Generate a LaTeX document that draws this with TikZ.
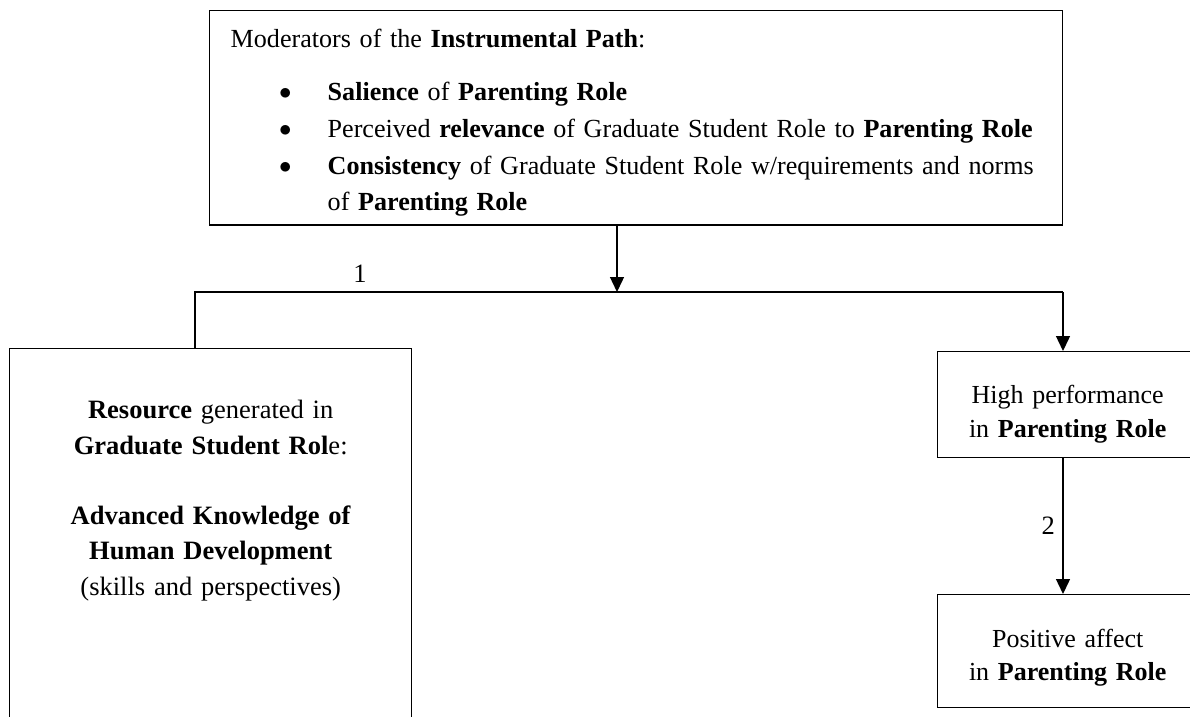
\documentclass[tikz,border=0pt]{standalone}
\usepackage{fontspec}
\setmainfont{Liberation Serif}
\usetikzlibrary{arrows.meta,positioning}
\tikzset{
  >={Triangle[width=14pt,length=15pt]},
  x=1pt, y=-1pt,
}
\tikzstyle{box}=[draw,line width=1.4pt,inner sep=0pt,anchor=north west,align=center]
\tikzstyle{link}=[line width=1.4pt]
\tikzstyle{every node}=[font=\fontsize{26.5}{36.7}\selectfont]
\newcommand{\itm}{\hspace*{69.5pt}\makebox[48.5pt][l]{\raisebox{1pt}{$\bullet$}}}

\begin{document}
\begin{tikzpicture}
  \clip (0,0) rectangle (1190,716);

  % moderators
  \node[box,text width=853pt,align=left,font=\fontsize{26.1}{36.7}\selectfont] (mods) at (209,10)
    {\hspace*{21pt}\rule{0pt}{37pt}Moderators of the \textbf{Instrumental Path}:\\[16.3pt]
     \itm\textbf{Salience} of \textbf{Parenting Role}\\
     \itm Perceived \textbf{relevance} of Graduate Student Role to \textbf{Parenting Role}\\
     \itm\textbf{Consistency} of Graduate Student Role w/requirements and norms\\
     \hspace*{118pt}of \textbf{Parenting Role}\rule[-14pt]{0pt}{0pt}};

  % resource box (runs off the page)
  \node[box,text width=402pt,font=\fontsize{26.5}{35.5}\selectfont] (res) at (9,348)
    {\rule{0pt}{70pt}\textbf{Resource} generated in\\
     \textbf{Graduate Student Rol}e:\\[34.5pt]
     \textbf{Advanced Knowledge of}\\
     \textbf{Human Development}\\
     (skills and perspectives)\rule[-200pt]{0pt}{0pt}};

  % parenting outcomes
  \node[box,text width=260pt,font=\fontsize{26}{34}\selectfont] (perf) at (937,351)
    {\rule{0pt}{52pt}High performance\\
     in \textbf{Parenting Role}\rule[-20pt]{0pt}{0pt}};
  \node[box,text width=260pt,font=\fontsize{26}{33}\selectfont] (aff) at (937,594)
    {\rule{0pt}{53pt}Positive affect\\
     in \textbf{Parenting Role}\rule[-27pt]{0pt}{0pt}};

  \coordinate (lft) at (195,292);
  \coordinate (split) at (617,292);
  \coordinate (rgt) at (1063,292);

  \draw[link,->] (mods.south -| split) -- (split);
  \draw[link] (res.north -| lft) -- (lft) -- node[pos=0.19,above=5pt] {1} (rgt);
  \draw[link,->] (rgt) -- (perf.north -| rgt);
  \draw[link,->] (perf.south -| rgt) -- node[left=4pt] {2} (aff.north -| rgt);
\end{tikzpicture}
\end{document}
